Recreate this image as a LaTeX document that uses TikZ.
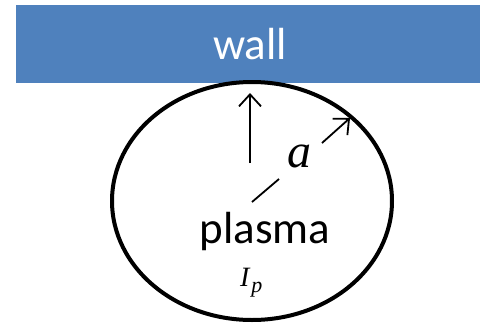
\documentclass[tikz,border=0pt]{standalone}
\usepackage{fontspec}
\setmainfont{Liberation Serif}
\newfontfamily\calib{Carlito}
\usetikzlibrary{arrows.meta,shapes.geometric}
\definecolor{wallblue}{RGB}{79,129,189}
\begin{document}
\begin{tikzpicture}[x=1pt,y=-1pt,
  radarrow/.style={line width=1.8pt,-{Straight Barb[length=12pt,width=22pt,line width=1.8pt]}},
  radline/.style={line width=1.8pt},
  labeltext/.style={inner sep=0pt,outer sep=0pt}]
\useasboundingbox (0,0) rectangle (480,322);
\node[fill=wallblue,minimum width=464pt,minimum height=77.5pt,inner sep=0pt,anchor=north west] (wall) at (16,5) {};
\node[labeltext,text=white,anchor=base] (walltext) at (250,59) {\fontsize{45}{45}\selectfont\calib wall};
\node[draw,line width=4pt,ellipse,minimum width=280pt,minimum height=238pt,inner sep=0pt] (pl) at (252,201) {};
\node[labeltext,anchor=base] (plasmatext) at (265,243) {\fontsize{45}{45}\selectfont\calib plasma};
\node[labeltext,anchor=base west] (ip) at (240,286) {\fontsize{28}{28}\selectfont\itshape I\kern2pt\raisebox{-6pt}{\fontsize{22}{22}\selectfont p}};
\node[labeltext,anchor=base west] (alabel) at (287,167) {\fontsize{48}{48}\selectfont\itshape a};
\coordinate (vstart) at (250,163);
\coordinate (vend) at (250,93);
\coordinate (c0) at (252,202);
\coordinate (c1) at (279,179);
\coordinate (d0) at (322,143);
\coordinate (d1) at (350,118);
\draw[radarrow] (vstart) -- (vend);
\draw[radline] (c0) -- (c1);
\draw[radarrow] (d0) -- (d1);
\end{tikzpicture}
\end{document}
